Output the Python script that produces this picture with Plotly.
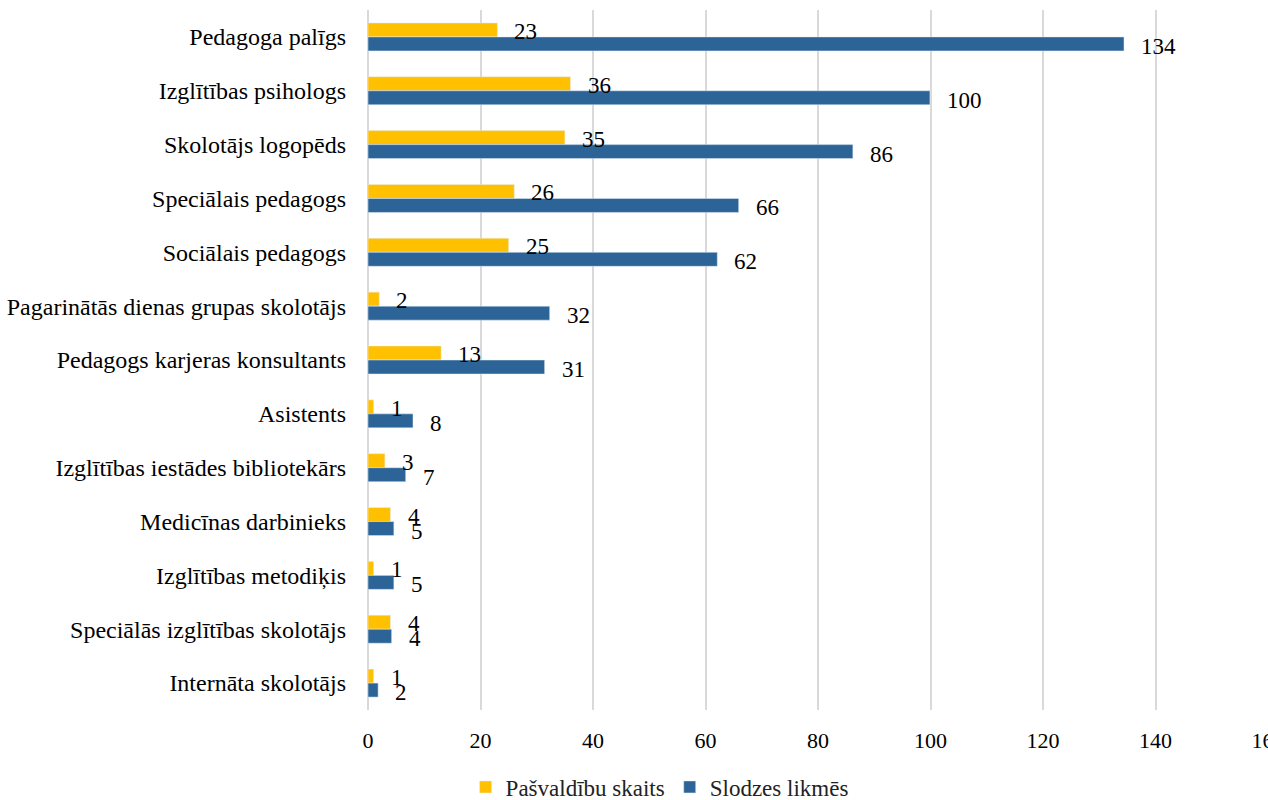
import plotly.graph_objects as go

categories = [
    "Pedagoga palīgs",
    "Izglītības psihologs",
    "Skolotājs logopēds",
    "Speciālais pedagogs",
    "Sociālais pedagogs",
    "Pagarinātās dienas grupas skolotājs",
    "Pedagogs karjeras konsultants",
    "Asistents",
    "Izglītības iestādes bibliotekārs",
    "Medicīnas darbinieks",
    "Izglītības metodiķis",
    "Speciālās izglītības skolotājs",
    "Internāta skolotājs",
]
pasvaldibu_skaits = [23, 36, 35, 26, 25, 2, 13, 1, 3, 4, 1, 4, 1]
slodzes_likmes = [134.4, 99.9, 86.2, 65.9, 62.1, 32.3, 31.4, 8.0, 6.7, 4.6, 4.6, 4.2, 1.8]
x_ticks = [0, 20, 40, 60, 80, 100, 120, 140, 160]

YELLOW = "#FFC000"
BLUE = "#2D6497"
SERIF = "Liberation Serif, Times New Roman, serif"

fig = go.Figure()
fig.add_trace(go.Bar(y=categories, x=pasvaldibu_skaits, orientation="h",
                     name="Pašvaldību skaits", marker_color=YELLOW))
fig.add_trace(go.Bar(y=categories, x=slodzes_likmes, orientation="h",
                     name="Slodzes likmēs", marker_color=BLUE))

for c, v in zip(categories, pasvaldibu_skaits):
    fig.add_annotation(x=v, y=c, text=f"{v:.0f}", showarrow=False, xanchor="left",
                       xshift=15, yshift=5.5, font=dict(family=SERIF, size=23, color="#000"))
for c, v in zip(categories, slodzes_likmes):
    fig.add_annotation(x=v, y=c, text=f"{v:.0f}", showarrow=False, xanchor="left",
                       xshift=15, yshift=-9.5, font=dict(family=SERIF, size=23, color="#000"))

fig.update_layout(
    width=1268, height=800,
    margin=dict(l=368, r=0, t=10, b=90, autoexpand=False),
    paper_bgcolor="white", plot_bgcolor="white",
    barmode="group", bargap=0.48, bargroupgap=0,
    font=dict(family=SERIF, size=22, color="#000"),
    legend=dict(orientation="h", x=0.324, xanchor="center", y=-0.11, yanchor="middle",
                font=dict(family=SERIF, size=23, color="#222"), itemwidth=30),
    xaxis=dict(range=[0, 160], tickvals=x_ticks, showgrid=True, gridcolor="#D9D9D9",
               gridwidth=2, zeroline=True, zerolinecolor="#D9D9D9", zerolinewidth=2,
               showline=False, tickfont=dict(family=SERIF, size=22, color="#000"),
               ticklabelstandoff=15, ticklabeloverflow="allow", automargin=False),
    yaxis=dict(autorange="reversed", showgrid=False, zeroline=False, showline=False,
               tickfont=dict(family=SERIF, size=24, color="#000"), ticklabelstandoff=21,
               automargin=False),
)

fig.write_html(
    "out.html",
    config={"displayModeBar": False},
    post_script="document.body.style.margin='0';document.body.style.overflow='hidden';",
)
